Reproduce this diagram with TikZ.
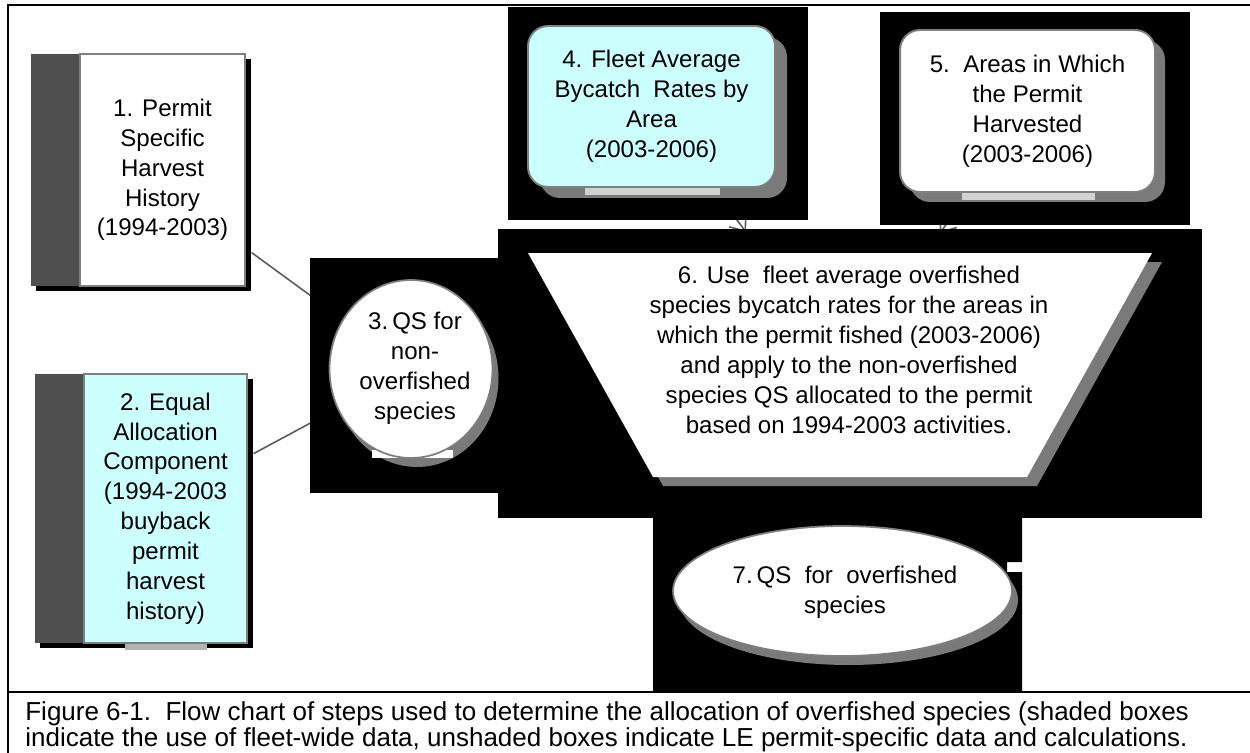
\documentclass[tikz,border=0pt]{standalone}
\usepackage{fontspec}
\setmainfont{Liberation Sans}
\usetikzlibrary{shapes.geometric,arrows.meta,calc}
\pgfdeclarelayer{bglayer}
\pgfdeclarelayer{connlayer}
\pgfdeclarelayer{panellayer}
\pgfsetlayers{bglayer,connlayer,panellayer,main}
\definecolor{fleet}{HTML}{CCFFFF}
\definecolor{stripc}{HTML}{4F4F4F}
\definecolor{edgec}{HTML}{7F7F7F}
\definecolor{stipc}{HTML}{7A7A7A}
\definecolor{connc}{HTML}{5A5A5A}
\begin{document}
\begin{tikzpicture}[x=0.02cm,y=-0.02cm,
  txt/.style={font=\fontsize{13.7}{17}\selectfont, align=center, inner sep=0pt},
  sqbox/.style={draw=edgec, line width=0.7pt, inner sep=0pt, txt},
  rbox/.style={draw=edgec, line width=1.1pt, rounded corners=0.4cm, inner sep=0pt, txt},
  oval/.style={ellipse, draw=edgec, line width=1pt, fill=white, inner sep=0pt},
  ovalshadow/.style={ellipse, fill=stipc, inner sep=0pt},
  panel/.style={fill=black},
  conn/.style={draw=connc, line width=0.9pt},
  frame/.style={line width=1.2pt}]
\useasboundingbox (0,0) rectangle (1250,753);
\begin{pgfonlayer}{bglayer}
  \fill[white] (0,0) rectangle (1250,753);
\end{pgfonlayer}

% frame and caption separator
\draw[frame] (8,753) -- (8,5) -- (1250,5);
\draw[frame] (8,692) -- (1250,692);

% ---------- node 1
\fill[black] (36,59) rectangle (251,291);
\fill[stripc] (31,54) rectangle (80,286);
\node[sqbox, fill=white, minimum width=3.3cm, minimum height=4.64cm] (n1) at (162.5,170)
  {1. Permit\\Specific\\Harvest\\History\\(1994-2003)};

% ---------- node 2
\fill[black] (40,379) rectangle (253,648);
\fill[stripc] (35,374) rectangle (84,643);
\fill[gray!60] (125,643) rectangle (207,650);
\node[sqbox, fill=fleet, minimum width=3.26cm, minimum height=5.38cm] (n2) at (165.5,508.5)
  {2. Equal\\Allocation\\Component\\(1994-2003\\buyback\\permit\\harvest\\history)};

% ---------- node 3
\node[ovalshadow, minimum width=3.26cm, minimum height=3.56cm] (s3) at (417,378) {};
\fill[white] (372,450) rectangle (453,458);
\node[oval, minimum width=3.26cm, minimum height=3.56cm] (n3) at (411,369) {};
\node[txt] (n3t) at (415,368) {3.\,QS for\\non-\\overfished\\species};

% ---------- node 4
\fill[stipc, rounded corners=0.4cm] (540,37) rectangle (787,198);
\fill[gray!35] (585,187) rectangle (720,195);
\node[rbox, fill=fleet, minimum width=4.94cm, minimum height=3.22cm] (n4) at (651.5,106.5)
  {4. Fleet Average\\Bycatch\ \ Rates by\\Area\\(2003-2006)};

% ---------- node 5
\fill[stipc, rounded corners=0.4cm] (910,40) rectangle (1165,202);
\fill[gray!35] (962,192) rectangle (1095,200);
\node[rbox, fill=white, minimum width=5.1cm, minimum height=3.24cm] (n5) at (1027.5,111)
  {5.\ \ Areas in Which\\the Permit\\Harvested\\(2003-2006)};

% ---------- node 6 (trapezoid)
\coordinate (q1) at (528,253);
\coordinate (q2) at (1152,253);
\coordinate (q3) at (1027,477);
\coordinate (q4) at (653,477);
\fill[stipc] ($(q1)+(10,9)$) -- ($(q2)+(10,9)$) -- ($(q3)+(10,9)$) -- ($(q4)+(10,9)$) -- cycle;
\fill[white] (q1) -- (q2) -- (q3) -- (q4) -- cycle;
\node[txt] (n6) at (849,350)
  {6. Use\ \ fleet average overfished\\species bycatch rates for the areas in\\which the permit fished (2003-2006)\\and apply to the non-overfished\\species QS allocated to the permit\\based on 1994-2003 activities.};

% ---------- node 7
\node[ovalshadow, minimum width=6.78cm, minimum height=2.6cm] (s7) at (848.5,600) {};
\node[oval, minimum width=6.78cm, minimum height=2.6cm] (n7) at (842.5,591) {};
\node[txt] (n7t) at (845,592) {7.\,QS\ \ for\ \ overfished\\species};

% ---------- black panels behind the shapes
\begin{pgfonlayer}{panellayer}
  \fill[panel] (310,258) rectangle (498,493);
  \fill[panel] (508,7) rectangle (808,220);
  \fill[panel] (880,12) rectangle (1190,225);
  \fill[panel] (498,229) rectangle (1202,518);
  \fill[panel] (653,518) -- (1022,518) -- (1022,562) -- (1007,562) -- (1007,572)
        -- (1022,572) -- (1022,692) -- (653,692) -- cycle;
\end{pgfonlayer}

% ---------- connectors (mostly hidden by the panels)
\coordinate (t4) at (746,232);
\coordinate (t5) at (940,233);
\begin{pgfonlayer}{connlayer}
  \draw[conn] ($(n1.south east)+(6,-34)$) -- (n3.center);
  \draw[conn] ($(n2.south east)+(6,-190)$) -- (n3.center);
  \draw[conn, -{Straight Barb[length=2.6mm,width=4.2mm]}] (n4) -- (t4);
  \draw[conn, -{Straight Barb[length=2.6mm,width=4.2mm]}] (n5) -- (t5);
\end{pgfonlayer}

% ---------- caption
\node[anchor=base west, inner sep=0pt, font=\fontsize{14.8}{17}\selectfont] (cap1) at (25,720)
  {Figure 6-1.\ \ Flow chart of steps used to determine the allocation of overfished species (shaded boxes};
\node[anchor=base west, inner sep=0pt, font=\fontsize{14.8}{17}\selectfont] (cap2) at (25,746)
  {indicate the use of fleet-wide data, unshaded boxes indicate LE permit-specific data and calculations.};
\end{tikzpicture}
\end{document}
